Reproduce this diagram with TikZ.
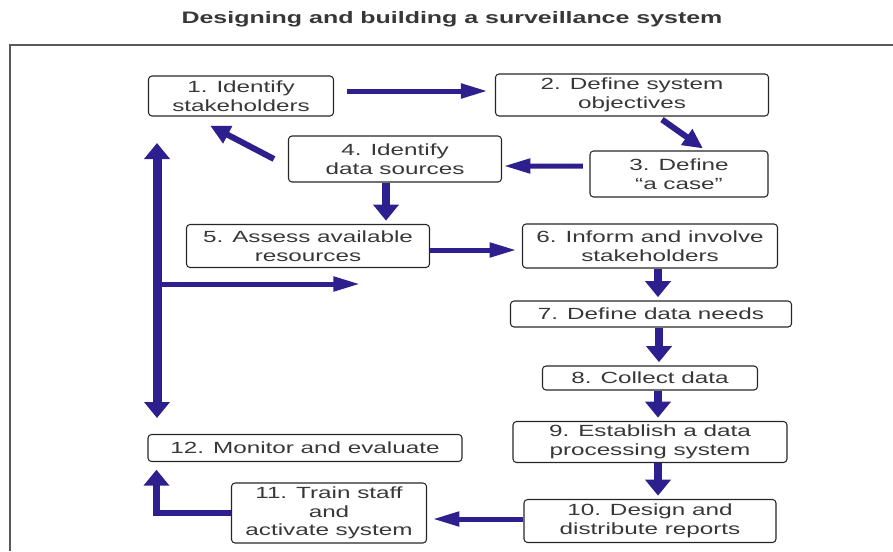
\documentclass[tikz,border=0pt]{standalone}
\usepackage{fontspec}
\setmainfont{Liberation Sans}[FakeStretch=1.5]
\usetikzlibrary{arrows.meta}
\definecolor{flowblue}{RGB}{46,31,142}
\definecolor{textgray}{RGB}{55,55,55}

\begin{document}
\begin{tikzpicture}[x=0.03cm,y=-0.03cm,
    box/.style={draw=black!85,line width=0.9pt,rounded corners=3pt,align=center,inner sep=0pt,
        text=textgray,font=\fontsize{13.8}{16}\selectfont},
    htip/.tip={Triangle[length=0.8cm,width=0.42cm]},
    vtip/.tip={Triangle[length=0.48cm,width=0.75cm]},
    dtip/.tip={Triangle[length=0.6cm,width=0.55cm]},
    harrow/.style={flowblue,line width=0.15cm,-htip},
    varrow/.style={flowblue,line width=0.24cm,-vtip,shorten >=0.1cm},
    darrow/.style={flowblue,line width=0.18cm,-dtip},
    frame/.style={draw=black!65,line width=1.5pt}]
        \useasboundingbox (0,0) rectangle (893,551);
        \clip (0,0) rectangle (893,551);

        % 标题和外框
        \node[font=\bfseries\fontsize{14.2}{16}\selectfont,text=textgray] (title) at (452,19)
            {Designing and building a surveillance system};
        \draw[frame] (893,45) -- (10,45) -- (10,551);

        % 绘制各个步骤
        \node[box,minimum width=5.55cm,minimum height=1.2cm] (s1) at (241,96) {1. Identify\\stakeholders};
        \node[box,minimum width=8.19cm,minimum height=1.26cm] (s2) at (632,95) {2. Define system\\objectives};
        \node[box,minimum width=5.34cm,minimum height=1.38cm] (s3) at (679,174) {3. Define\\``a case''};
        \node[box,minimum width=6.39cm,minimum height=1.38cm] (s4) at (395,159) {4. Identify\\data sources};
        \node[box,minimum width=7.29cm,minimum height=1.29cm] (s5) at (308,246) {5. Assess available\\resources};
        \node[box,minimum width=7.65cm,minimum height=1.32cm] (s6) at (650,246) {6. Inform and involve\\stakeholders};
        \node[box,minimum width=8.43cm,minimum height=0.78cm] (s7) at (651,314) {7. Define data needs};
        \node[box,minimum width=6.45cm,minimum height=0.72cm] (s8) at (650,378) {8. Collect data};
        \node[box,minimum width=8.22cm,minimum height=1.23cm] (s9) at (650,442) {9. Establish a data\\processing system};
        \node[box,minimum width=7.56cm,minimum height=1.29cm] (s10) at (650,521) {10. Design and\\distribute reports};
        \node[box,minimum width=5.85cm,minimum height=1.8cm] (s11) at (329,513) {11. Train staff\\and\\activate system};
        \node[box,minimum width=9.42cm,minimum height=0.81cm] (s12) at (305,448) {12. Monitor and evaluate};

        % 步骤之间的箭头
        \draw[harrow,shorten <=0.4cm,shorten >=0.22cm] ([yshift=0.15cm]s1.east) -- ([yshift=0.12cm]s2.west);
        \draw[darrow] ([xshift=0.9cm,yshift=-0.09cm]s2.south) -- ([xshift=0.72cm,yshift=0.06cm]s3.north);
        \draw[harrow,shorten <=0.2cm,shorten >=0.05cm] ([yshift=0.24cm]s3.west) -- ([yshift=-0.21cm]s4.east);
        \draw[darrow] ([xshift=-0.42cm]s4.west) -- ([xshift=-0.93cm,yshift=-0.27cm]s1.south);
        \draw[varrow] ([xshift=-0.27cm]s4.south) -- ([xshift=-0.27cm]s4.south |- s5.north);
        \draw[harrow,shorten >=0.17cm] ([yshift=-0.12cm]s5.east) -- ([yshift=-0.12cm]s6.west);
        \draw[varrow] ([xshift=0.24cm]s6.south) -- ([xshift=0.24cm]s6.south |- s7.north);
        \draw[varrow] ([xshift=0.24cm]s7.south) -- ([xshift=0.24cm]s7.south |- s8.north);
        \draw[varrow] ([xshift=0.24cm]s8.south) -- ([xshift=0.24cm]s8.south |- s9.north);
        \draw[varrow] ([xshift=0.24cm]s9.south) -- ([xshift=0.24cm]s9.south |- s10.north);
        \draw[harrow,shorten >=0.17cm] ([yshift=0.06cm]s10.west) -- ([yshift=0.06cm]s10.west -| s11.east);
        \draw[flowblue,line width=0.2cm,-vtip] (s11.west) -| ([xshift=0.27cm,yshift=-0.23cm]s12.south west);

        % 左侧的双向箭头
        \coordinate (leftup) at (157,143);
        \coordinate (leftdown) at (157,418);
        \coordinate (fork) at (157,284);
        \coordinate (forkend) at (360,284);
        \draw[flowblue,line width=0.27cm,vtip-vtip] (leftdown) -- (leftup);
        \draw[flowblue,line width=0.15cm,-htip] (fork) -- (forkend);
    \end{tikzpicture}
\end{document}
